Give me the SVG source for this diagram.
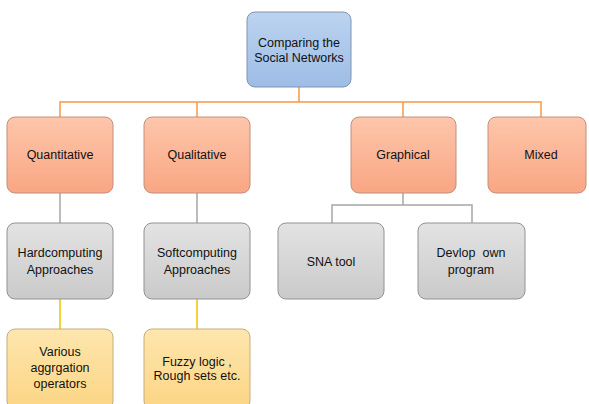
<svg xmlns="http://www.w3.org/2000/svg" width="589" height="404" viewBox="0 0 589 404">
<defs>
<linearGradient id="gBlue" x1="0" y1="0" x2="0" y2="1"><stop offset="0" stop-color="#bcd3f0"/><stop offset="1" stop-color="#9ebde6"/></linearGradient>
<linearGradient id="gOrange" x1="0" y1="0" x2="0" y2="1"><stop offset="0" stop-color="#fdc6ab"/><stop offset="1" stop-color="#f9a683"/></linearGradient>
<linearGradient id="gGray" x1="0" y1="0" x2="0" y2="1"><stop offset="0" stop-color="#e3e3e3"/><stop offset="1" stop-color="#cacaca"/></linearGradient>
<linearGradient id="gYellow" x1="0" y1="0" x2="0" y2="1"><stop offset="0" stop-color="#fee6ae"/><stop offset="1" stop-color="#fbd584"/></linearGradient>
</defs>
<style>
.blue{fill:url(#gBlue);stroke:#7f95b0;stroke-width:1}
.orange{fill:url(#gOrange);stroke:#bf907d;stroke-width:1}
.gray{fill:url(#gGray);stroke:#929292;stroke-width:1}
.yellow{fill:url(#gYellow);stroke:#c4ad7e;stroke-width:1}
text{font-family:"Liberation Sans",Arial,sans-serif;font-size:12.5px;fill:#111111;text-anchor:middle}
.lo{stroke:#f79646;stroke-width:1.5;fill:none}
.lg{stroke:#a6a6a6;stroke-width:1.5;fill:none}
.ly{stroke:#f5c400;stroke-width:1.5;fill:none}
</style>
<rect width="589" height="404" fill="#ffffff"/>
<g id="connectors">
<path class="lo" d="M299,87 V102 M60,117 V102 H541 V117 M197,102 V117 M403,102 V117"/>
<path class="lg" d="M60,193 V223 M197,193 V223 M403,193 V205 H332 V223 M403,205 H472 V223"/>
<path class="ly" d="M60,299 V329 M197,299 V329"/>
</g>
<g id="root"><rect class="blue" x="247" y="12" width="104" height="75" rx="8"/><text x="299" y="47">Comparing the</text><text x="299" y="62">Social Networks</text></g>
<g id="quantitative"><rect class="orange" x="7" y="117" width="106" height="76" rx="8"/><text x="60" y="159">Quantitative</text></g>
<g id="qualitative"><rect class="orange" x="144" y="117" width="106" height="76" rx="8"/><text x="197" y="159">Qualitative</text></g>
<g id="graphical"><rect class="orange" x="351" y="117" width="105" height="76" rx="8"/><text x="403" y="159">Graphical</text></g>
<g id="mixed"><rect class="orange" x="488" y="117" width="98" height="76" rx="8"/><text x="541" y="159">Mixed</text></g>
<g id="hardcomputing"><rect class="gray" x="7" y="223" width="106" height="76" rx="8"/><text x="60" y="257">Hardcomputing</text><text x="60" y="274">Approaches</text></g>
<g id="softcomputing"><rect class="gray" x="144" y="223" width="106" height="76" rx="8"/><text x="197" y="257">Softcomputing</text><text x="197" y="274">Approaches</text></g>
<g id="sna"><rect class="gray" x="278" y="223" width="106" height="76" rx="8"/><text x="331" y="266">SNA tool</text></g>
<g id="devlop"><rect class="gray" x="418" y="223" width="107" height="76" rx="8"/><text x="471" y="257">Devlop&#160; own</text><text x="471" y="274">program</text></g>
<g id="various"><rect class="yellow" x="7" y="329" width="106" height="80" rx="8"/><text x="60" y="356">Various</text><text x="60" y="372">aggrgation</text><text x="60" y="388">operators</text></g>
<g id="fuzzy"><rect class="yellow" x="144" y="329" width="106" height="80" rx="8"/><text x="197" y="366">Fuzzy logic ,</text><text x="197" y="380">Rough sets etc.</text></g>
</svg>
